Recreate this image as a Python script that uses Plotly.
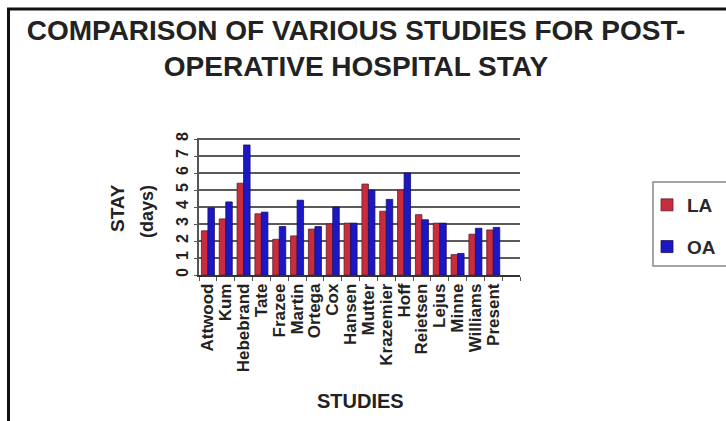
import plotly.graph_objects as go

studies = ["Attwood", "Kum", "Hebebrand", "Tate", "Frazee", "Martin", "Ortega", "Cox",
           "Hansen", "Mutter", "Krazemier", "Hoff", "Reietsen", "Lejus", "Minne",
           "Williams", "Present"]
la = [2.6, 3.3, 5.4, 3.6, 2.1, 2.3, 2.7, 3.0, 3.05, 5.35, 3.75, 5.0, 3.55, 3.05, 1.2, 2.4, 2.65]
oa = [3.95, 4.3, 7.65, 3.7, 2.85, 4.4, 2.85, 4.0, 3.05, 5.0, 4.45, 6.0, 3.25, 3.05, 1.27, 2.75, 2.8]
y_ticks = [0, 1, 2, 3, 4, 5, 6, 7, 8]

W, H = 726, 421
L, R, T, B = 199, 520, 138, 275  # plot area in px

def px(x):
    return (x - L) / (R - L)

def py(y):
    return (B - y) / (B - T)

FONT = "Liberation Sans, Arial, sans-serif"
idx = list(range(len(studies)))

fig = go.Figure()
fig.add_trace(go.Bar(x=idx, y=la, name="LA", legendgroup="LA",
                     marker=dict(color="#c92d3b", line=dict(color="#5a2030", width=0.8))))
fig.add_trace(go.Bar(x=idx, y=oa, name="OA", legendgroup="OA",
                     marker=dict(color="#1b17c6", line=dict(color="#1a1060", width=0.8))))

fig.update_layout(
    width=W, height=H,
    margin=dict(l=L, r=W - R, t=T, b=H - B, pad=0, autoexpand=False),
    paper_bgcolor="white", plot_bgcolor="white",
    barmode="group", bargap=0.27, bargroupgap=0.0,
    font=dict(family=FONT, color="#222"),
    title=dict(text="<b>COMPARISON OF VARIOUS STUDIES FOR POST-<br>OPERATIVE HOSPITAL STAY</b>",
               font=dict(size=28, family=FONT, color="#222"),
               x=356 / W, xanchor="center", xref="container",
               y=1 - 40 / H, yanchor="middle", yref="container"),
    legend=dict(x=px(647), xanchor="left", y=py(186), yanchor="top",
                font=dict(size=19, family=FONT, color="#2a2a2a", weight="bold"),
                bgcolor="rgba(0,0,0,0)", borderwidth=0,
                tracegroupgap=14, traceorder="grouped"),
    showlegend=True,
)

fig.update_xaxes(
    range=[-0.5, 17.5], tickmode="array", tickvals=idx, ticktext=[f"<b>{s}</b>" for s in studies],
    tickangle=-90, tickfont=dict(size=17, family=FONT, color="#222"),
    ticks="", showgrid=False, showline=True, linecolor="#333", linewidth=1.5,
    minor=dict(tickmode="array", tickvals=[i - 0.5 for i in range(19)], ticks="outside",
               ticklen=4, tickcolor="#555", tickwidth=1),
    zeroline=False, fixedrange=True, automargin=False,
)
fig.update_yaxes(
    range=[0, 8.06], tickmode="array", tickvals=y_ticks, ticktext=[f"<b>{v}</b>" for v in y_ticks],
    tickangle=-90, tickfont=dict(size=16, family=FONT, color="#222"),
    ticks="outside", ticklen=3, tickcolor="#555",
    showgrid=True, gridcolor="#5a5a5a", gridwidth=2,
    showline=True, linecolor="#555", linewidth=1.5,
    zeroline=False, fixedrange=True, automargin=False,
)

# axis titles
fig.add_annotation(text="<b>STAY</b>", x=px(117), y=py(208), xref="paper", yref="paper",
                   xanchor="center", yanchor="middle",
                   textangle=-90, showarrow=False, font=dict(size=19, family=FONT, color="#222"))
fig.add_annotation(text="<b>(days)</b>", x=px(147), y=py(212), xref="paper", yref="paper",
                   xanchor="center", yanchor="middle",
                   textangle=-90, showarrow=False, font=dict(size=18, family=FONT, color="#222"))
fig.add_annotation(text="<b>STUDIES</b>", x=px(360), y=py(401), xref="paper", yref="paper",
                   xanchor="center", yanchor="middle",
                   showarrow=False, font=dict(size=20, family=FONT, color="#222"))

# legend frame (clipped at right edge as in reference)
fig.add_shape(type="rect", xref="paper", yref="paper",
              x0=px(653), x1=px(760), y0=py(266), y1=py(182),
              line=dict(color="#888", width=1.5), fillcolor="rgba(0,0,0,0)", layer="below")
# outer frame (top and left visible)
fig.add_shape(type="rect", xref="paper", yref="paper",
              x0=px(8.5), x1=px(760), y0=py(460), y1=py(9),
              line=dict(color="#111", width=3), fillcolor="rgba(0,0,0,0)")

fig.write_html("out.html", config={"displayModeBar": False},
               post_script="document.body.style.margin='0';")
